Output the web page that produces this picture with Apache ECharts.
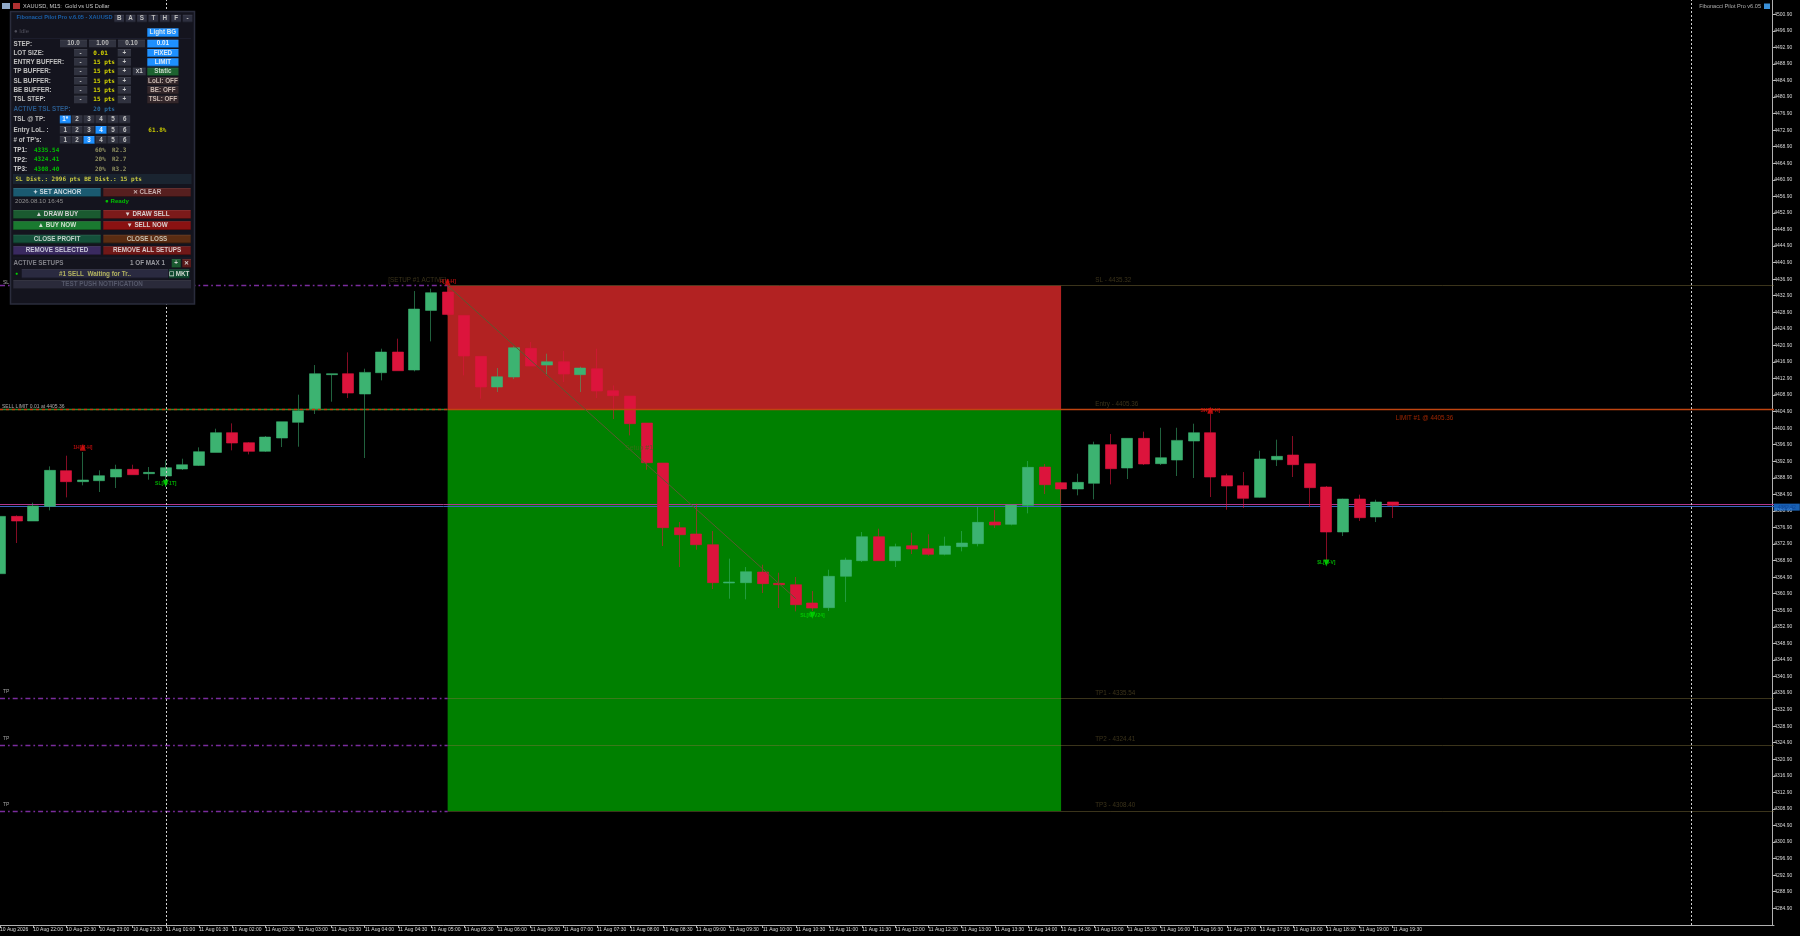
<!DOCTYPE html>
<html><head><meta charset="utf-8">
<style>html,body{margin:0;padding:0;background:#000;overflow:hidden}#c{width:1800px;height:936px;filter:blur(0.4px)}</style>
<script src="https://cdn.jsdelivr.net/npm/echarts@6/dist/echarts.min.js"></script>
</head><body><div id="c"></div>
<script>
const timeLabels=['10 Aug 2026','10 Aug 22:00','10 Aug 22:30','10 Aug 23:00','10 Aug 23:30','11 Aug 01:00','11 Aug 01:30','11 Aug 02:00','11 Aug 02:30','11 Aug 03:00','11 Aug 03:30','11 Aug 04:00','11 Aug 04:30','11 Aug 05:00','11 Aug 05:30','11 Aug 06:00','11 Aug 06:30','11 Aug 07:00','11 Aug 07:30','11 Aug 08:00','11 Aug 08:30','11 Aug 09:00','11 Aug 09:30','11 Aug 10:00','11 Aug 10:30','11 Aug 11:00','11 Aug 11:30','11 Aug 12:00','11 Aug 12:30','11 Aug 13:00','11 Aug 13:30','11 Aug 14:00','11 Aug 14:30','11 Aug 15:00','11 Aug 15:30','11 Aug 16:00','11 Aug 16:30','11 Aug 17:00','11 Aug 17:30','11 Aug 18:00','11 Aug 18:30','11 Aug 19:00','11 Aug 19:30'];
const yTicks=[4500.9,4496.9,4492.9,4488.9,4484.9,4480.9,4476.9,4472.9,4468.9,4464.9,4460.9,4456.9,4452.9,4448.9,4444.9,4440.9,4436.9,4432.9,4428.9,4424.9,4420.9,4416.9,4412.9,4408.9,4404.9,4400.9,4396.9,4392.9,4388.9,4384.9,4380.9,4376.9,4372.9,4368.9,4364.9,4360.9,4356.9,4352.9,4348.9,4344.9,4340.9,4336.9,4332.9,4328.9,4324.9,4320.9,4316.9,4312.9,4308.9,4304.9,4300.9,4296.9,4292.9,4288.9,4284.9];
const opens=[4365.74,4379.59,4378.47,4382.01,4390.63,4387.97,4388.21,4389.10,4390.95,4389.90,4389.34,4391.03,4391.91,4395.05,4399.81,4397.39,4395.30,4398.52,4402.30,4405.36,4413.82,4414.06,4409.15,4414.30,4419.29,4414.95,4429.36,4433.79,4428.15,4418.25,4410.84,4413.25,4420.18,4416.15,4416.96,4413.82,4415.27,4409.95,4408.66,4402.14,4392.48,4376.86,4375.33,4372.75,4363.49,4363.57,4366.14,4363.41,4363.08,4358.66,4357.53,4365.10,4368.88,4374.68,4368.88,4372.51,4371.78,4370.41,4372.27,4372.99,4378.23,4377.66,4382.25,4391.51,4387.73,4386.20,4387.57,4396.91,4391.27,4398.44,4392.32,4393.20,4397.79,4399.81,4389.42,4387.00,4384.18,4393.28,4394.41,4392.32,4386.68,4375.81,4383.78,4379.43,4383.06];
const closes=[4379.59,4378.47,4382.09,4390.71,4387.97,4388.37,4389.42,4390.95,4389.66,4390.22,4391.35,4392.07,4395.22,4399.81,4397.31,4395.30,4398.76,4402.46,4405.12,4414.06,4414.06,4409.39,4414.38,4419.29,4414.78,4429.68,4433.63,4428.39,4418.33,4410.84,4413.33,4420.34,4415.91,4416.96,4413.98,4415.43,4409.87,4408.75,4401.98,4392.56,4376.86,4375.16,4372.75,4363.57,4363.73,4366.22,4363.33,4363.08,4358.25,4357.45,4365.10,4369.04,4374.68,4368.88,4372.27,4371.70,4370.41,4372.43,4373.15,4378.14,4377.50,4382.33,4391.43,4387.24,4386.20,4387.81,4396.91,4391.11,4398.44,4392.24,4393.77,4397.95,4399.81,4389.10,4386.92,4383.94,4393.45,4394.09,4392.08,4386.52,4375.81,4383.78,4379.27,4383.06,4382.25];
const lows=[4365.74,4373.15,4378.47,4381.04,4384.18,4387.08,4385.47,4386.44,4389.66,4388.45,4386.68,4390.79,4391.75,4395.05,4395.54,4394.57,4395.14,4396.34,4396.42,4404.32,4407.30,4408.18,4393.69,4412.45,4414.78,4414.62,4421.87,4428.15,4413.66,4408.02,4409.63,4412.77,4415.91,4413.66,4412.05,4409.63,4408.18,4403.11,4399.16,4390.87,4372.43,4367.35,4371.54,4362.04,4359.70,4359.54,4361.07,4357.45,4356.64,4356.72,4356.72,4358.90,4368.56,4368.88,4367.35,4370.49,4370.09,4370.17,4371.14,4372.35,4376.78,4377.42,4380.32,4384.99,4382.81,4384.67,4383.70,4387.32,4388.61,4392.00,4392.00,4389.34,4388.86,4384.26,4381.20,4381.61,4384.10,4391.75,4389.10,4381.85,4368.96,4374.84,4378.47,4378.22,4379.19];
const highs=[4379.59,4379.83,4382.90,4391.67,4394.25,4395.14,4390.71,4392.07,4392.07,4391.51,4393.12,4393.52,4396.26,4400.77,4402.06,4397.55,4399.00,4402.46,4408.99,4416.15,4414.06,4419.21,4415.27,4420.10,4422.52,4434.03,4434.60,4435.32,4428.15,4418.25,4415.43,4420.66,4421.71,4418.89,4419.54,4415.75,4420.10,4411.24,4408.66,4402.14,4392.48,4378.22,4382.65,4376.05,4369.37,4367.35,4367.91,4365.98,4364.94,4361.55,4366.71,4369.61,4375.81,4376.61,4372.99,4375.65,4375.25,4374.68,4376.05,4381.85,4381.12,4382.33,4392.96,4392.24,4387.89,4389.90,4397.63,4399.48,4398.44,4400.05,4401.00,4401.00,4401.98,4404.40,4389.90,4390.30,4395.46,4398.12,4399.00,4392.32,4386.92,4383.86,4384.83,4383.62,4383.06];
const slPrice=4435.32, entryPrice=4405.36, tp1=4335.54, tp2=4324.41, tp3=4308.40, bidPrice=4382.42, askPrice=4382.15;
const swingHighs=[[5,4396.3,'1H[M-H]'],[27,4436.2,'H[M-H]'],[73,4405.2,'SH[M-H]']];
const swingLows=[[10,4387.6,'SL[M-1T]'],[49,4355.7,'SL[M-V24]'],[80,4368.3,'$L[M-V]']];
const notes=[[23,4436.6,'[SETUP #1 ACTIVE]',7,'#4a4020',6.3],[66,4436.6,'SL - 4435.32',1,'#4a4020',6.3],[66,4406.6,'Entry - 4405.36',1,'#4a4020',6.3],[66,4336.8,'TP1 - 4335.54',1,'#4a4020',6.3],[66,4325.7,'TP2 - 4324.41',1,'#4a4020',6.3],[66,4309.7,'TP3 - 4308.40',1,'#4a4020',6.3],[84,4403.4,'LIMIT #1 @ 4405.36',3,'#c83000',6.3],[38,4396.0,'Setup #1',-5,'#3c6c18',7],[0,4406.0,'SELL LIMIT 0.01 at 4405.36',2,'#d0d0d0',5],[0,4436.0,'SL',3,'#c8c8c8',5],[0,4337.2,'TP',3,'#c8c8c8',5],[0,4326.0,'TP',3,'#c8c8c8',5],[0,4310.0,'TP',3,'#c8c8c8',5]];

const categories=[];for(let i=0;i<108;i++)categories.push(i%2===0&&timeLabels[i/2]?timeLabels[i/2]:'');
const candles=opens.map((o,i)=>[o,closes[i],lows[i],highs[i]]);
const hasLabel=(i,v)=>v!=='';
const seg=(x0,y0,x1,y1,color,width,type)=>[{xAxis:x0,yAxis:y0,lineStyle:{color,width:width||1,type:type||'solid',opacity:1}},{xAxis:x1,yAxis:y1}];
const dashDot=[5,3,1.7,3];
const olive='rgba(130,115,60,0.45)',purple='#7a2c9c';
const leftLines=[slPrice,tp1,tp2,tp3].map(v=>seg(0,v,27,v,purple,1.3,dashDot));
const rightLines=[slPrice,tp1,tp2,tp3].map(v=>seg(27,v,107,v,olive,1));
const F='"Liberation Sans",Arial,sans-serif',M='"DejaVu Sans Mono",monospace';
const g=[];
function rect(x0,x1,y0,y1,fill,stroke){g.push({type:'rect',z:100,silent:true,shape:{x:x0,y:y0,width:x1-x0,height:y1-y0},style:{fill,stroke:stroke||null,lineWidth:stroke?1.5:0}});}
function txt(x,y,text,fill,o){o=o||{};g.push({type:'text',z:101,silent:true,x,y,style:{text,fill,font:(o.w||'bold')+' '+(o.s||6.3)+'px '+(o.f||F),align:o.a||'left',verticalAlign:'middle'}});}
function btn(x0,x1,y0,y1,fill,text,color,o){rect(x0,x1,y0,y1,fill);rect(x0,x1,y0,y0+.7,'rgba(255,255,255,0.10)');rect(x0,x1,y1-.7,y1,'rgba(0,0,0,0.4)');txt((x0+x1)/2,(y0+y1)/2,text,color||'#b8b8b8',Object.assign({a:'center'},o||{}));}
const BLUE='#1e90ff';
// top bar
rect(2,10,3,9,'#8fa8c8');rect(13,20,3,9,'#b03030');
txt(23,6,'XAUUSD, M15:  Gold vs US Dollar','#c8c8c8',{s:5.6,w:'normal'});
txt(1761,6,'Fibonacci Pilot Pro v6.05','#b0b0b0',{s:5.6,a:'right',w:'normal'});
rect(1764,1770,3.5,9,'#3a90d8');
// panel
rect(10.5,194.5,11.5,304,'#14141e','#2a2c3c');
txt(16.5,17.5,'Fibonacci Pilot Pro v.6.05 - XAUUSD','#1a5fa8',{s:5.6});
['B','A','S','T','H','F','-'].forEach((t,i)=>btn(114.3+i*11.4,124+i*11.4,14.8,22.3,'#2e3040',t,'#c0c0c0'));
txt(14,31.5,'● Idle','#50505c',{s:6,w:'normal'});
btn(147.3,178.5,28.3,37,BLUE,'Light BG','#d8e8f0');
rect(13,191,38,38.6,'#24263a');
txt(13.5,43.8,'STEP:','#c0c0c0');
[[60,87,'10.0'],[89,116,'1.00'],[118,145,'0.10']].forEach(a=>btn(a[0],a[1],39.7,47.7,'#30323f',a[2],'#b8b8b8'));
btn(147.3,178.5,39.7,47.7,BLUE,'0.01','#e0f0ff');
const rowY=[53,62.3,71.7,81,90.3,99.7];
const rowLabel=['LOT SIZE:','ENTRY BUFFER:','TP BUFFER:','SL BUFFER:','BE BUFFER:','TSL STEP:'];
const rowVal=['0.01','15 pts','15 pts','15 pts','15 pts','15 pts'];
const rowBtn=[['FIXED',BLUE,'#d8e8f8'],['LIMIT',BLUE,'#d8e8f8'],['Static','#1d6330','#c8d8c8'],['LoLI: OFF','#33262a','#c8b8b0'],['BE: OFF','#33262a','#c8b8b0'],['TSL: OFF','#33262a','#c8b8b0']];
rowY.forEach((y,i)=>{txt(13.5,y,rowLabel[i],'#c0c0c0');btn(74,87.3,y-4,y+4,'#30323f','-','#c8c8c8');txt(93.3,y,rowVal[i],'#d4d400',{f:M,s:6});btn(117.7,131,y-4,y+4,'#30323f','+','#c8c8c8');btn(147.3,178.5,y-4,y+4,rowBtn[i][1],rowBtn[i][0],rowBtn[i][2]);});
btn(132.7,145.7,67.7,75.7,'#30323f','x1','#c8c8c8');
txt(13.5,109,'ACTIVE TSL STEP:','#2a5a8c');
txt(93.3,109,'20 pts','#2a6a9c',{f:M,s:6});
const picker=(y,label,active,names)=>{txt(13.5,y,label,'#c0c0c0');[65.3,77,89,101,113,124.7].forEach((x,i)=>btn(x-5.5,x+5.5,y-4,y+4,i===active?BLUE:'#30323f',names[i],i===active?'#f0f8ff':'#c8c8c8'));};
picker(119.5,'TSL @ TP:',0,['1*','2','3','4','5','6']);
picker(130,'Entry LoL. :',3,['1','2','3','4','5','6']);
picker(140,"# of TP's:",2,['1','2','3','4','5','6']);
txt(148.3,130,'61.8%','#c8c800',{f:M,s:6});
[[150.5,'TP1:','4335.54','60%','R2.3'],[159.8,'TP2:','4324.41','20%','R2.7'],[169,'TP3:','4308.40','20%','R3.2']].forEach(r=>{txt(13.5,r[0],r[1],'#d0d0d0');txt(34,r[0],r[2],'#00c000',{f:M,s:6});txt(95,r[0],r[3],'#909060',{f:M,s:6});txt(112,r[0],r[4],'#909060',{f:M,s:6});});
rect(13,191.5,174,184,'#1a2430');
txt(15.5,179.3,'SL Dist.: 2996 pts BE Dist.: 15 pts','#c8c840',{f:M,s:6});
btn(13.3,100.7,188,196.7,'#1a5a70','✦ SET ANCHOR','#c8d8e0');
btn(103.3,190.7,188,196.7,'#561f1f','✕ CLEAR','#c8b0b0');
txt(15,201.5,'2026.08.10 16:45','#909090',{s:6.2,w:'normal'});
txt(105,201.5,'● Ready','#00c000',{s:6.2});
btn(13.3,100.7,210,218.7,'#1a5a30','▲ DRAW BUY','#d0d0d0');
btn(103.3,190.7,210,218.7,'#7c1a1a','▼ DRAW SELL','#d8d0d0');
btn(13.3,100.7,221.3,230,'#1a7a30','▲ BUY NOW','#d0e0d0');
btn(103.3,190.7,221.3,230,'#8a1212','▼ SELL NOW','#d8d0d0');
btn(13.3,100.7,234.7,243.3,'#14503a','CLOSE PROFIT','#c0d0c8');
btn(103.3,190.7,234.7,243.3,'#5a2c12','CLOSE LOSS','#c8c0b0');
btn(13.3,100.7,246.3,255,'#3a2a60','REMOVE SELECTED','#c8c8d8');
btn(103.3,190.7,246.3,255,'#701818','REMOVE ALL SETUPS','#d8c8c8');
rect(13,191,257.7,258.3,'#24263a');
txt(13.5,263.7,'ACTIVE SETUPS','#808088');
txt(130,263.7,'1 OF MAX 1','#9a9aa0');
btn(171.7,180.7,259,267.7,'#1a5a30','+','#d0d0d0');
btn(182.3,191,259,267.7,'#5a1a1a','✕','#d0d0d0');
txt(16.5,274,'●','#00d000',{s:5,a:'center'});
btn(21.7,168.3,269.3,278.3,'#2a2a40','#1 SELL  Waiting for Tr..','#b4b460');
btn(169,189.3,269.3,278.3,'#104a30','☐ MKT','#d0d8d0');
btn(13.3,191,280.3,289,'#2a2a3a','TEST PUSH NOTIFICATION','#55586a');

const mk=(list,color,flip)=>({type:'scatter',z:6,silent:true,symbol:'triangle',symbolSize:[6,7],symbolRotate:flip?0:180,data:list.map(a=>({value:[a[0],a[1]],label:{formatter:a[2]}})),itemStyle:{color},label:{show:true,position:'inside',color,fontFamily:F,fontWeight:'bold',fontSize:5}});
const option={backgroundColor:'#000',animation:false,
 grid:{left:0,top:0,right:26,bottom:11,show:false,outerBoundsMode:'none',containLabel:false},
 xAxis:{type:'category',boundaryGap:false,data:categories,axisLine:{lineStyle:{color:'#b0b0b0',width:1}},splitLine:{show:false},
  axisTick:{show:true,length:3,interval:hasLabel,lineStyle:{color:'#b0b0b0'}},
  axisLabel:{show:true,interval:hasLabel,align:'left',margin:2.5,color:'#d8d8d8',fontSize:5,fontFamily:F,hideOverlap:false}},
 yAxis:{type:'value',position:'right',offset:-1.3,min:4280.86,max:4504.35,scale:true,splitLine:{show:false},
  axisLine:{show:true,lineStyle:{color:'#b0b0b0',width:1}},
  axisTick:{show:true,length:3,customValues:yTicks,lineStyle:{color:'#b0b0b0'}},
  axisLabel:{show:true,margin:1.5,customValues:yTicks,color:'#d8d8d8',fontSize:5,fontFamily:F,formatter:v=>v.toFixed(2)}},
 series:[
  {type:'line',name:'zones',data:[],silent:true,z:1,
   markArea:{silent:true,z:0,data:[
    [{xAxis:27,yAxis:slPrice,itemStyle:{color:'#b22222',opacity:1}},{xAxis:64,yAxis:entryPrice}],
    [{xAxis:27,yAxis:entryPrice,itemStyle:{color:'#008000',opacity:1}},{xAxis:64,yAxis:tp3}]]},
   markLine:{silent:true,z:1,symbol:'none',label:{show:false},animation:false,data:[
    seg(0,askPrice,107,askPrice,'#3a64c0',1),seg(0,bidPrice,107,bidPrice,'#b0368c',1)]}},
  {type:'candlestick',name:'XAUUSD M15',z:2,data:candles,barWidth:11.5,
   itemStyle:{color:'#3CB371',color0:'#DC143C',borderColor:'rgba(60,179,113,0.55)',borderColor0:'rgba(220,20,60,0.6)',borderWidth:1}},
  {type:'line',name:'guides',data:[],silent:true,z:5,
   markLine:{silent:true,symbol:'none',label:{show:false},animation:false,data:[
    ...leftLines,...rightLines,
    seg(0,entryPrice,27,entryPrice,'#2e8b2e',1.4),
    seg(0,entryPrice,27,entryPrice,'#d03010',1.4,[3,3]),
    seg(27,entryPrice,107,entryPrice,'#c04410',1.4),
    seg(27,slPrice,48,4359.7,'#5a5a30',1),
    [{xAxis:10,yAxis:4280.86,lineStyle:{color:'#d0d0d0',width:1,type:[2,2],opacity:1}},{xAxis:10,yAxis:4504.35}],
    [{xAxis:102,yAxis:4280.86,lineStyle:{color:'#d0d0d0',width:1,type:[2,2],opacity:1}},{xAxis:102,yAxis:4504.35}]
   ]}},
  mk(swingHighs,'#e01010',true),mk(swingLows,'#00d800',false),
  {type:'scatter',name:'notes',z:7,silent:true,symbolSize:0,
   data:notes.map(n=>({value:[n[0],n[1]],label:{formatter:n[2],offset:[n[3],0],color:n[4],fontSize:n[5]}})),
   label:{show:true,position:'right',distance:0,fontFamily:F}},
  {type:'scatter',name:'bid tag',z:7,silent:true,symbolSize:0,clip:false,
   data:[{value:[107,bidPrice-0.6],label:{formatter:'4382.42'}}],
   label:{show:true,position:'right',distance:0,offset:[-0.3,0],fontFamily:F,fontSize:5,color:'#0c3c90',backgroundColor:'#1e78e0',padding:[1,4,1,4]}}
 ],
 graphic:{elements:g}};
echarts.init(document.getElementById('c'),null,{renderer:'canvas'}).setOption(option);
</script></body></html>
